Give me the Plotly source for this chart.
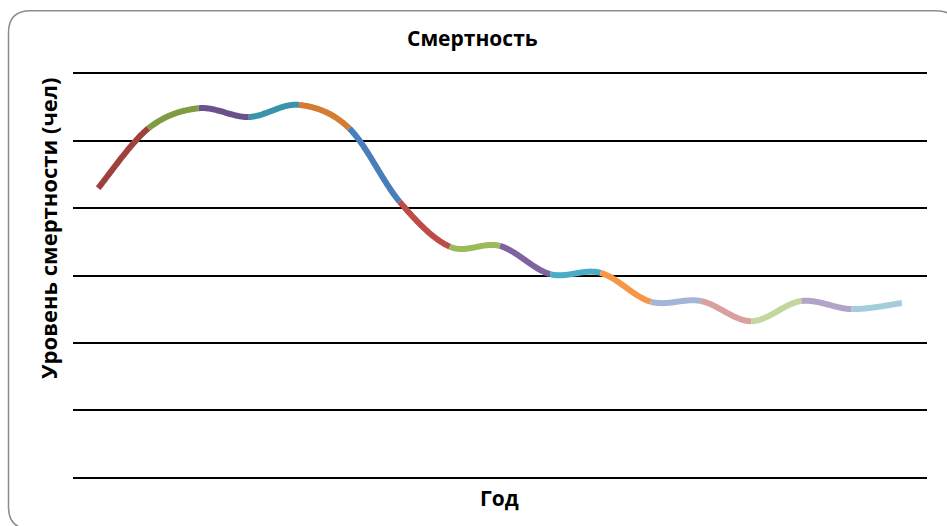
import numpy as np
import plotly.graph_objects as go

# Mortality level per period (people), one value per year on the category axis
periods = list(range(17))
deaths = [43.0, 51.9, 54.9, 53.6, 55.4, 51.9, 41.0, 34.3, 34.4,
          30.2, 30.4, 26.1, 26.2, 23.2, 26.2, 25.0, 25.9]

# Each segment between consecutive years gets its own colour
segment_colors = [
    "#9E413E", "#7F9C42", "#6A518C", "#3B93AB", "#D47D32",
    "#4A7EBB", "#BE4B48", "#9BBB59", "#7F63A1", "#4BACC6", "#F79646",
    "#A4B6D8", "#D8A09F", "#C4D69F", "#B2A3C8", "#A3CDDA",
]

y_gridvals = [0, 10, 20, 30, 40, 50, 60]

title_text = "Смертность"
x_title = "Год"
y_title = "Уровень смертности (чел)"

W, H = 947, 526


def px(x):
    return x / W


def py(y):
    return 1 - y / H


def smooth_segment(i, n=60):
    """Cubic Bezier between point i and i+1 (Catmull-Rom style tangents)."""
    xs = np.asarray(periods, dtype=float)
    ys = np.asarray(deaths, dtype=float)
    last = len(xs) - 1
    a = max(i - 1, 0)
    d = min(i + 2, last)
    p0 = np.array([xs[i], ys[i]])
    p3 = np.array([xs[i + 1], ys[i + 1]])
    c1 = p0 + (p3 - np.array([xs[a], ys[a]])) / 6.0
    c2 = p3 - (np.array([xs[d], ys[d]]) - p0) / 6.0
    t = np.linspace(0, 1, n)[:, None]
    pts = ((1 - t) ** 3) * p0 + 3 * ((1 - t) ** 2) * t * c1 \
        + 3 * (1 - t) * (t ** 2) * c2 + (t ** 3) * p3
    return pts[:, 0], pts[:, 1]


fig = go.Figure()
for i, color in enumerate(segment_colors):
    sx, sy = smooth_segment(i)
    fig.add_trace(go.Scatter(
        x=sx, y=sy, mode="lines",
        line=dict(color=color, width=6, simplify=False),
        hoverinfo="skip", showlegend=False,
    ))

# Rounded chart-area frame
left, top, right, bottom, r = 8.5, 10.8, 958.0, 529.0, 22.0
frame = (
    f"M {px(left + r)},{py(top)} L {px(right - r)},{py(top)} "
    f"Q {px(right)},{py(top)} {px(right)},{py(top + r)} "
    f"L {px(right)},{py(bottom - r)} "
    f"Q {px(right)},{py(bottom)} {px(right - r)},{py(bottom)} "
    f"L {px(left + r)},{py(bottom)} "
    f"Q {px(left)},{py(bottom)} {px(left)},{py(bottom - r)} "
    f"L {px(left)},{py(top + r)} "
    f"Q {px(left)},{py(top)} {px(left + r)},{py(top)} Z"
)

font_family = "'Open Sans', 'Noto Sans', 'DejaVu Sans', sans-serif"

fig.update_layout(
    width=W, height=H,
    margin=dict(l=0, r=0, t=0, b=0),
    paper_bgcolor="white", plot_bgcolor="white",
    xaxis=dict(
        domain=[px(73), px(927)],
        range=[-0.5, len(periods) - 0.5],
        showgrid=False, zeroline=False, showticklabels=False,
        showline=True, mirror=True, linecolor="#000000", linewidth=2,
        ticks="",
    ),
    yaxis=dict(
        domain=[py(477), py(74)],
        range=[0, 60],
        tickvals=y_gridvals,
        showgrid=True, gridcolor="#000000", gridwidth=2,
        zeroline=False, showticklabels=False, showline=False, ticks="",
    ),
    shapes=[dict(type="path", xref="paper", yref="paper", path=frame,
                 line=dict(color="#8C8C8C", width=1.5), layer="below")],
    annotations=[
        dict(text=f"<b>{title_text}</b>", x=px(472), y=py(38),
             xref="paper", yref="paper", showarrow=False,
             xanchor="center", yanchor="middle",
             font=dict(family=font_family, size=21, color="#000000")),
        dict(text=f"<b>{x_title}</b>", x=px(499.5), y=py(498),
             xref="paper", yref="paper", showarrow=False,
             xanchor="center", yanchor="middle",
             font=dict(family=font_family, size=21, color="#000000")),
        dict(text=f"<b>{y_title}</b>", x=px(48), y=py(229),
             xref="paper", yref="paper", showarrow=False, textangle=-90,
             xanchor="center", yanchor="middle",
             font=dict(family=font_family, size=22, color="#000000")),
    ],
)

fig.write_html("out.html")
